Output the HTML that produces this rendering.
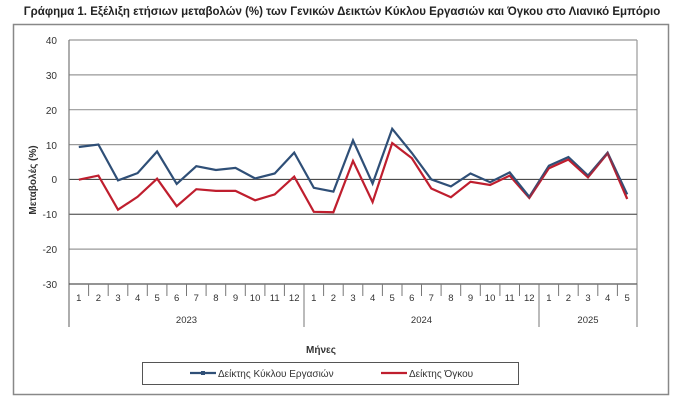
<!DOCTYPE html>
<html><head><meta charset="utf-8"><style>body{margin:0;background:#fff}svg{display:block}</style></head><body>
<svg width="692" height="412" xmlns="http://www.w3.org/2000/svg" font-family="Liberation Sans, DejaVu Sans, sans-serif">
<text x="342" y="15" font-size="11.5" font-weight="bold" text-anchor="middle" fill="#222">Γράφημα 1. Εξέλιξη ετήσιων μεταβολών (%) των Γενικών Δεικτών Κύκλου Εργασιών και Όγκου στο Λιανικό Εμπόριο</text>
<rect x="13.5" y="24.5" width="655" height="370" fill="none" stroke="#888" stroke-width="1.5"/>
<g stroke="#999" stroke-width="1.2">
<line x1="69" y1="40" x2="637" y2="40"/><line x1="69" y1="74.9" x2="637" y2="74.9"/><line x1="69" y1="109.7" x2="637" y2="109.7"/><line x1="69" y1="144.6" x2="637" y2="144.6"/>
<line x1="69" y1="214.3" x2="637" y2="214.3"/><line x1="69" y1="249.1" x2="637" y2="249.1"/>
<line x1="637" y1="40" x2="637" y2="284"/>
</g>
<line x1="69" y1="179.4" x2="637" y2="179.4" stroke="#333" stroke-width="1"/>
<line x1="69" y1="214.3" x2="637" y2="214.3" stroke="#555" stroke-width="1"/>
<line x1="69" y1="40" x2="69" y2="327" stroke="#777" stroke-width="1.2"/>
<line x1="69" y1="284" x2="637" y2="284" stroke="#555" stroke-width="1.2"/>
<g stroke="#777" stroke-width="1">
<line x1="304" y1="284" x2="304" y2="327"/><line x1="539" y1="284" x2="539" y2="327"/><line x1="637" y1="284" x2="637" y2="327"/>
<line x1="88.6" y1="284" x2="88.6" y2="296"/><line x1="108.2" y1="284" x2="108.2" y2="296"/><line x1="127.8" y1="284" x2="127.8" y2="296"/><line x1="147.3" y1="284" x2="147.3" y2="296"/><line x1="166.9" y1="284" x2="166.9" y2="296"/><line x1="186.5" y1="284" x2="186.5" y2="296"/><line x1="206.1" y1="284" x2="206.1" y2="296"/><line x1="225.7" y1="284" x2="225.7" y2="296"/><line x1="245.3" y1="284" x2="245.3" y2="296"/><line x1="264.9" y1="284" x2="264.9" y2="296"/><line x1="284.4" y1="284" x2="284.4" y2="296"/>
<line x1="323.6" y1="284" x2="323.6" y2="296"/><line x1="343.2" y1="284" x2="343.2" y2="296"/><line x1="362.8" y1="284" x2="362.8" y2="296"/><line x1="382.4" y1="284" x2="382.4" y2="296"/><line x1="402" y1="284" x2="402" y2="296"/><line x1="421.5" y1="284" x2="421.5" y2="296"/><line x1="441.1" y1="284" x2="441.1" y2="296"/><line x1="460.7" y1="284" x2="460.7" y2="296"/><line x1="480.3" y1="284" x2="480.3" y2="296"/><line x1="499.9" y1="284" x2="499.9" y2="296"/><line x1="519.5" y1="284" x2="519.5" y2="296"/>
<line x1="558.6" y1="284" x2="558.6" y2="296"/><line x1="578.2" y1="284" x2="578.2" y2="296"/><line x1="597.8" y1="284" x2="597.8" y2="296"/><line x1="617.4" y1="284" x2="617.4" y2="296"/>
</g>
<g font-size="10" fill="#333" text-anchor="end">
<text x="57" y="44">40</text><text x="57" y="79">30</text><text x="57" y="114">20</text><text x="57" y="149">10</text><text x="57" y="183">0</text><text x="57" y="218">-10</text><text x="57" y="253">-20</text><text x="57" y="288">-30</text>
</g>
<text transform="translate(36,180) rotate(-90)" font-size="10" font-weight="bold" fill="#333" text-anchor="middle">Μεταβολές (%)</text>
<g font-size="9.5" fill="#333" text-anchor="middle">
<text x="78.8" y="301">1</text><text x="98.4" y="301">2</text><text x="118" y="301">3</text><text x="137.6" y="301">4</text><text x="157.1" y="301">5</text><text x="176.7" y="301">6</text><text x="196.3" y="301">7</text><text x="215.9" y="301">8</text><text x="235.5" y="301">9</text><text x="255.1" y="301">10</text><text x="274.7" y="301">11</text><text x="294.2" y="301">12</text>
<text x="313.8" y="301">1</text><text x="333.4" y="301">2</text><text x="353" y="301">3</text><text x="372.6" y="301">4</text><text x="392.2" y="301">5</text><text x="411.8" y="301">6</text><text x="431.3" y="301">7</text><text x="450.9" y="301">8</text><text x="470.5" y="301">9</text><text x="490.1" y="301">10</text><text x="509.7" y="301">11</text><text x="529.3" y="301">12</text>
<text x="548.9" y="301">1</text><text x="568.4" y="301">2</text><text x="588" y="301">3</text><text x="607.6" y="301">4</text><text x="627.2" y="301">5</text>
<text x="186.5" y="323">2023</text><text x="421.5" y="323">2024</text><text x="588" y="323">2025</text>
</g>
<text x="321" y="353" font-size="10" font-weight="bold" fill="#333" text-anchor="middle">Μήνες</text>
<polyline fill="none" stroke="#bf1e2e" stroke-width="2.2" points="78.8,179.7 98.4,175.6 118,209.7 137.6,196.8 157.1,178.7 176.7,206.2 196.3,189.2 215.9,190.9 235.5,190.9 255.1,200.3 274.7,194.4 294.2,176.6 313.8,211.8 333.4,212.2 353,160.9 372.6,202.1 392.2,143.1 411.8,158.1 431.3,188.5 450.9,197.2 470.5,181.8 490.1,185 509.7,175.6 529.3,197.9 548.9,168.2 568.4,159.5 588,177.3 607.6,153.3 627.2,198.9"/>
<polyline fill="none" stroke="#2f4f77" stroke-width="2.2" points="78.8,147 98.4,144.5 118,180.4 137.6,173.1 157.1,151.5 176.7,183.9 196.3,166.2 215.9,170 235.5,167.9 255.1,178.4 274.7,173.5 294.2,152.6 313.8,187.8 333.4,191.6 353,140.4 372.6,183.6 392.2,128.8 411.8,152.9 431.3,179.4 450.9,186.4 470.5,173.5 490.1,182.2 509.7,172.4 529.3,196.8 548.9,165.8 568.4,157.1 588,175.6 607.6,152.6 627.2,194.4"/>
<polyline fill="none" stroke="#bf1e2e" stroke-width="2.2" points="529.3,197.9 548.9,168.2 568.4,159.5 588,177.3 607.6,153.3 627.2,198.9" opacity="0.6"/>
<rect x="142.5" y="362.5" width="376" height="22" fill="#fff" stroke="#555" stroke-width="1"/>
<line x1="190" y1="373" x2="216" y2="373" stroke="#2f4f77" stroke-width="2.2"/><rect x="201" y="371" width="4" height="4" fill="#2f4f77"/>
<text x="218" y="377" font-size="10" fill="#333">Δείκτης Κύκλου Εργασιών</text>
<line x1="381" y1="373" x2="407" y2="373" stroke="#bf1e2e" stroke-width="2.2"/>
<text x="409" y="377" font-size="10" fill="#333">Δείκτης Όγκου</text>
</svg>
</body></html>
